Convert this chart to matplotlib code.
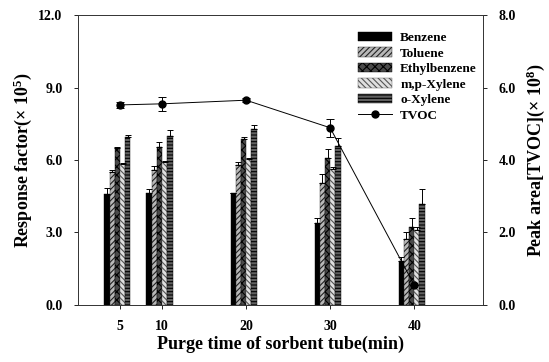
import matplotlib
matplotlib.use("Agg")
import matplotlib.pyplot as plt
from matplotlib.lines import Line2D
import numpy as np

plt.rcParams['font.family'] = 'Liberation Serif'
plt.rcParams['font.weight'] = 'bold'
plt.rcParams['mathtext.fontset'] = 'custom'
plt.rcParams['mathtext.rm'] = 'Liberation Serif:bold'
plt.rcParams['mathtext.bf'] = 'Liberation Serif:bold'
plt.rcParams['mathtext.default'] = 'bf'
plt.rcParams['hatch.linewidth'] = 0.8

purge_time = [5, 10, 20, 30, 40]
compounds = ['Benzene', 'Toluene', 'Ethylbenzene', 'm,p-Xylene', 'o-Xylene']

# response factor (x 10^5) and upper error
benzene = [4.58, 4.62, 4.62, 3.41, 1.82]
toluene = [5.50, 5.58, 5.79, 5.03, 2.73]
ethylbenzene = [6.48, 6.55, 6.85, 6.10, 3.24]
mp_xylene = [5.83, 5.90, 6.03, 5.61, 3.10]
o_xylene = [6.95, 7.00, 7.29, 6.58, 4.18]

benzene_err = [0.26, 0.19, 0.0, 0.20, 0.15]
toluene_err = [0.08, 0.17, 0.13, 0.39, 0.29]
ethylbenzene_err = [0.07, 0.21, 0.11, 0.34, 0.35]
mp_xylene_err = [0.05, 0.07, 0.05, 0.08, 0.14]
o_xylene_err = [0.07, 0.24, 0.16, 0.32, 0.61]

# TVOC peak area (x 10^8)
tvoc = [5.52, 5.55, 5.65, 4.89, 0.55]
tvoc_err = [0.09, 0.20, 0.05, 0.25, 0.0]

series = [benzene, toluene, ethylbenzene, mp_xylene, o_xylene]
errors = [benzene_err, toluene_err, ethylbenzene_err, mp_xylene_err, o_xylene_err]
styles = [
    dict(facecolor='black', edgecolor='black', hatch=None),
    dict(facecolor='#b8b8b8', edgecolor='#222222', hatch='//////'),
    dict(facecolor='#4a4a4a', edgecolor='black', hatch='xxxx'),
    dict(facecolor='#e0e0e0', edgecolor='#555555', hatch='\\\\\\\\\\\\'),
    dict(facecolor='#606060', edgecolor='black', hatch='-----'),
]

fig = plt.figure(figsize=(5.49, 3.62), dpi=100)
ax = fig.add_axes([0.142, 0.1575, 0.738, 0.801])
ax2 = ax.twinx()

x = np.array(purge_time, dtype=float)
w = 0.62
handles = []
for i, (vals, err, st) in enumerate(zip(series, errors, styles)):
    pos = x + (i - 2) * w - 0.3
    b = ax.bar(pos, vals, width=w, linewidth=0.3, label=compounds[i], **st)
    ax.errorbar(pos, vals, yerr=[np.zeros(len(err)), err], fmt='none',
                ecolor='black', elinewidth=0.7, capsize=2.5, capthick=0.7)
    handles.append(b)

ax2.errorbar(x, tvoc, yerr=tvoc_err, fmt='-o', color='black', lw=0.7,
             ms=5, elinewidth=0.7, capsize=3, capthick=0.7)
handles.append(Line2D([], [], color='black', lw=0.7, marker='o', ms=5, label='TVOC'))

ax.set_xlim(0, 48.2)
ax.set_ylim(0, 12)
ax2.set_ylim(0, 8)
ax.set_xticks(purge_time)
ax.set_yticks([0, 3, 6, 9, 12])
ax2.set_yticks([0, 2, 4, 6, 8])
ax.set_yticklabels(['%.1f' % v for v in [0, 3, 6, 9, 12]])
ax2.set_yticklabels(['%.1f' % v for v in [0, 2, 4, 6, 8]])

for a in (ax, ax2):
    for s in a.spines.values():
        s.set_linewidth(0.6)
        s.set_color('#333333')
ax.tick_params(axis='x', length=3, width=0.6, pad=8, labelsize=10)
ax.tick_params(axis='y', length=3, width=0.6, pad=8, labelsize=10)
ax2.tick_params(axis='y', length=3, width=0.6, pad=8, labelsize=10)

ax.set_xlabel('Purge time of sorbent tube(min)', fontsize=13, fontweight='bold', labelpad=2)
ax.set_ylabel('Response factor(× 10$^5$)', fontsize=13, fontweight='bold', labelpad=3)
ax2.set_ylabel('Peak area[TVOC](× 10$^8$)', fontsize=13, fontweight='bold', labelpad=6)

fig.legend(handles=handles, loc='upper left', bbox_to_anchor=(0.652, 0.912),
           frameon=False, fontsize=9.5, handlelength=2.6, handleheight=0.7,
           handletextpad=0.6, labelspacing=0.25, borderpad=0, borderaxespad=0)

fig.savefig('out.png', dpi=100)
